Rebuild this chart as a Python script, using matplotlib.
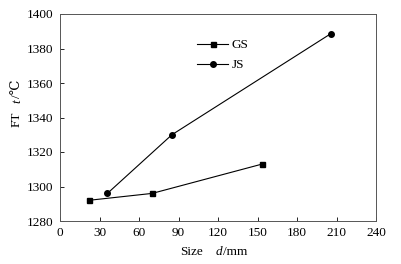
import matplotlib
matplotlib.use("Agg")
import matplotlib.pyplot as plt

# data
gs_size = [22, 70, 153.5]
gs_temp = [1292, 1296, 1313]
js_size = [36, 85, 205.5]
js_temp = [1296, 1330, 1388.5]

x_ticks = [0, 30, 60, 90, 120, 150, 180, 210, 240]
y_ticks = [1280, 1300, 1320, 1340, 1360, 1380, 1400]

W, H = 401, 264
serif = ['Liberation Serif', 'DejaVu Serif']
plt.rcParams['font.family'] = serif

fig = plt.figure(figsize=(W / 100, H / 100), dpi=100)
ax = fig.add_axes([60 / W, 1 - 221 / H, 316 / W, 207 / H])

ax.plot(gs_size, gs_temp, 'k-', marker='s', markersize=3.6, linewidth=0.8, label='GS')
ax.plot(js_size, js_temp, 'k-', marker='o', markersize=4.0, linewidth=0.8, label='JS')

ax.set_xlim(0, 240)
ax.set_ylim(1280, 1400)
ax.set_xticks(x_ticks)
ax.set_yticks(y_ticks)
ax.tick_params(direction='in', length=3, width=0.6, labelsize=9.5,
               top=False, right=False)
ax.tick_params(axis='y', pad=5)
ax.tick_params(axis='x', pad=4)
for s in ax.spines.values():
    s.set_linewidth(0.7)
    s.set_color('#555555')

# axis labels built from pieces so t and d can be italic
def px(x, y):
    return x / W, 1 - y / H

fs = 9.5
fig.text(*px(180, 252), 'Size', fontsize=fs, ha='left', va='center')
fig.text(*px(216, 252), 'd', fontsize=fs, style='italic', ha='left', va='center')
fig.text(*px(223, 252), '/mm', fontsize=fs, ha='left', va='center')

fig.text(*px(17, 127), 'FT', fontsize=fs, rotation=90, ha='center', va='bottom')
fig.text(*px(17, 103), 't', fontsize=fs, style='italic', rotation=90, ha='center', va='bottom')
fig.text(*px(17, 98), '/℃', fontsize=fs, rotation=90, ha='center', va='bottom')

ax.legend(loc='upper left', bbox_to_anchor=((197 - 60) / 316, (221 - 39) / 207),
          frameon=False, fontsize=fs, borderpad=0, borderaxespad=0,
          handlelength=2.35, handletextpad=0.3, labelspacing=0.6)

fig.savefig('out.png', dpi=100)
